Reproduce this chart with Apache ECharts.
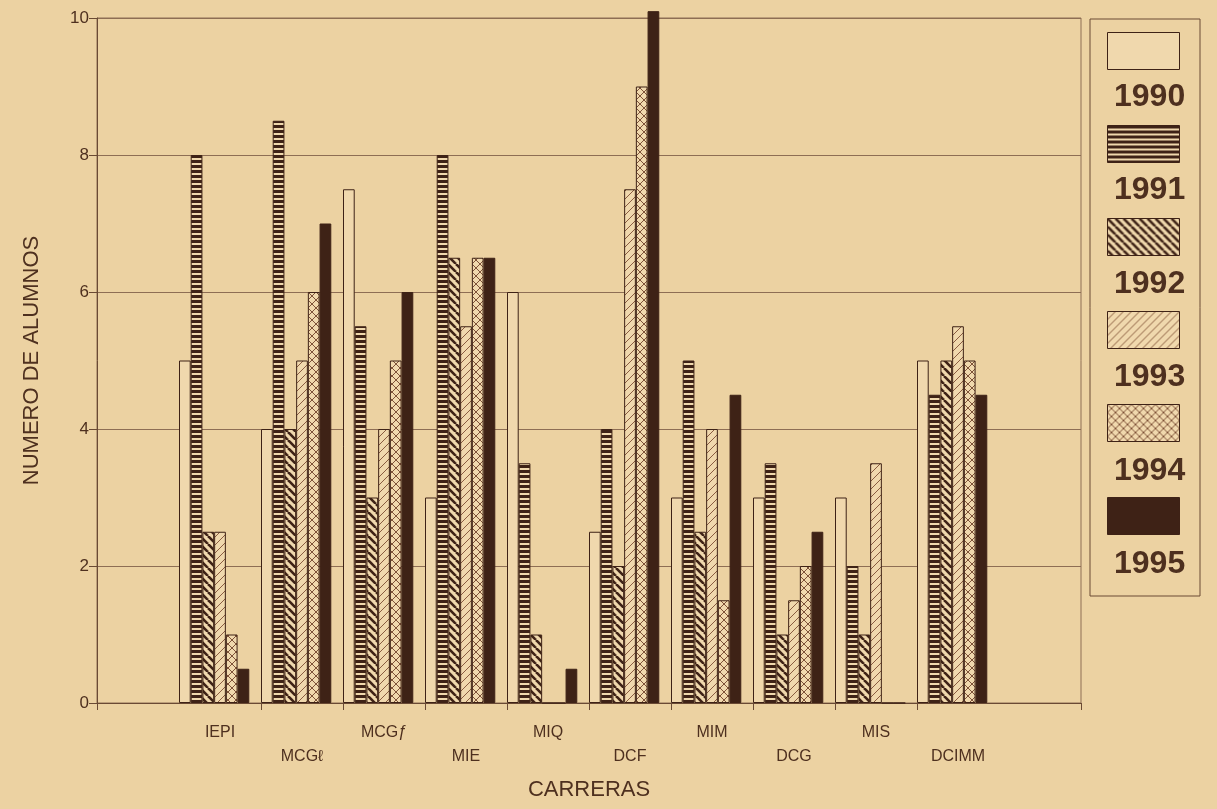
<!DOCTYPE html>
<html><head><meta charset="utf-8">
<script src="https://cdn.jsdelivr.net/npm/echarts@6/dist/echarts.min.js"></script>
<style>html,body{margin:0;padding:0;background:#ecd2a2}#c{width:1217px;height:809px}</style>
</head><body><div id="c"></div>
<script>
const categories = ['IEPI','MCGℓ','MCGƒ','MIE','MIQ','DCF','MIM','DCG','MIS','DCIMM'];
const years = ['1990','1991','1992','1993','1994','1995'];
const v1990 = [5, 4, 7.5, 3, 6, 2.5, 3, 3, 3, 5];
const v1991 = [8, 8.5, 5.5, 8, 3.5, 4, 5, 3.5, 2, 4.5];
const v1992 = [2.5, 4, 3, 6.5, 1, 2, 2.5, 1, 1, 5];
const v1993 = [2.5, 5, 4, 5.5, 0, 7.5, 4, 1.5, 3.5, 5.5];
const v1994 = [1, 6, 5, 6.5, 0, 9, 1.5, 2, 0, 5];
const v1995 = [0.5, 7, 6, 6.5, 0.5, 10.1, 4.5, 2.5, 0, 4.5];
const yTicks = [0, 2, 4, 6, 8, 10];

const BG = '#ecd2a2', LIGHT = '#f0d8ad', INK = '#3e2216', LINE = '#8e6e54', AXIS = '#6a4a34', TEXT = '#4e301f';
const FONT = 'Liberation Sans, Arial, sans-serif';

function pattern(kind) {
  const s = kind === 'h' ? 5 : 8;
  const c = document.createElement('canvas'); c.width = s; c.height = s;
  const g = c.getContext('2d');
  g.fillStyle = LIGHT; g.fillRect(0, 0, s, s);
  function diag(dir, w, col) {
    g.strokeStyle = col; g.lineWidth = w;
    for (let x = -s; x <= s; x += s) {
      g.beginPath();
      if (dir === 'back') { g.moveTo(x, 0); g.lineTo(x + s, s); }
      else { g.moveTo(x, s); g.lineTo(x + s, 0); }
      g.stroke();
    }
  }
  if (kind === 'h') { g.fillStyle = INK; g.fillRect(0, 0, s, 3); }
  else if (kind === 'back') diag('back', 2.6, INK);
  else if (kind === 'fwd') diag('fwd', 1, '#8a5c40');
  else if (kind === 'cross') { diag('back', 1, '#7e5238'); diag('fwd', 1, '#7e5238'); }
  return { image: c, repeat: 'repeat' };
}

const values = [v1990, v1991, v1992, v1993, v1994, v1995];
const fills = [LIGHT, pattern('h'), pattern('back'), pattern('fwd'), pattern('cross'), INK];
const pad = a => [null].concat(a, [null]);

const series = years.map((y, i) => ({
  name: y, type: 'bar', data: pad(values[i]), clip: false,
  barGap: '0%', barCategoryGap: '0%',
  itemStyle: { color: fills[i], borderColor: INK, borderWidth: 1 }
}));
series.push({ name: 'spacer', type: 'bar', silent: true, data: pad(categories.map(() => null)) });

const chart = echarts.init(document.getElementById('c'));
chart.setOption({
  animation: false,
  backgroundColor: BG,
  grid: { left: 97, right: 136, top: 18, bottom: 106, show: true, borderColor: LINE, borderWidth: 1, backgroundColor: 'transparent' },
  xAxis: {
    type: 'category', data: [''].concat(categories, ['']), boundaryGap: true,
    axisLine: { lineStyle: { color: AXIS, width: 1 } },
    axisTick: { show: true, length: 7, interval: (i) => i !== 1 && i !== 11, lineStyle: { color: AXIS } },
    axisLabel: { interval: 0, formatter: (v, i) => (i % 2 === 0 ? '\n' + v : v), fontSize: 16, lineHeight: 24, color: TEXT, fontFamily: FONT, margin: 18 },
    name: 'CARRERAS', nameLocation: 'middle', nameGap: 76,
    nameTextStyle: { fontSize: 22, color: TEXT, fontFamily: FONT }
  },
  yAxis: {
    type: 'value', min: yTicks[0], max: yTicks[yTicks.length - 1], interval: yTicks[1] - yTicks[0],
    axisLine: { show: true, lineStyle: { color: AXIS, width: 1 } },
    axisTick: { show: true, length: 8, lineStyle: { color: AXIS } },
    splitLine: { lineStyle: { color: LINE, width: 1 } },
    axisLabel: { fontSize: 17, color: TEXT, fontFamily: FONT, margin: 8 },
    name: 'NUMERO DE ALUMNOS', nameLocation: 'middle', nameGap: 54,
    nameTextStyle: { fontSize: 22, color: TEXT, fontFamily: FONT }
  },
  legend: [{
    data: years, orient: 'vertical', left: 1090, top: 19, icon: 'rect',
    itemWidth: 72, itemHeight: 37, itemGap: 55,
    padding: [13, 20, 61, 17], borderColor: AXIS, borderWidth: 1,
    selectedMode: false,
    itemStyle: { borderColor: INK, borderWidth: 1 },
    formatter: () => ''
  }, {
    data: years, orient: 'vertical', left: 1109, top: 81, icon: 'none',
    itemWidth: 0, itemHeight: 32, itemGap: 61.5, padding: 0,
    selectedMode: false,
    textStyle: { fontSize: 32, fontWeight: 'bold', color: TEXT, fontFamily: FONT, lineHeight: 32 }
  }],
  series: series
});
</script></body></html>
